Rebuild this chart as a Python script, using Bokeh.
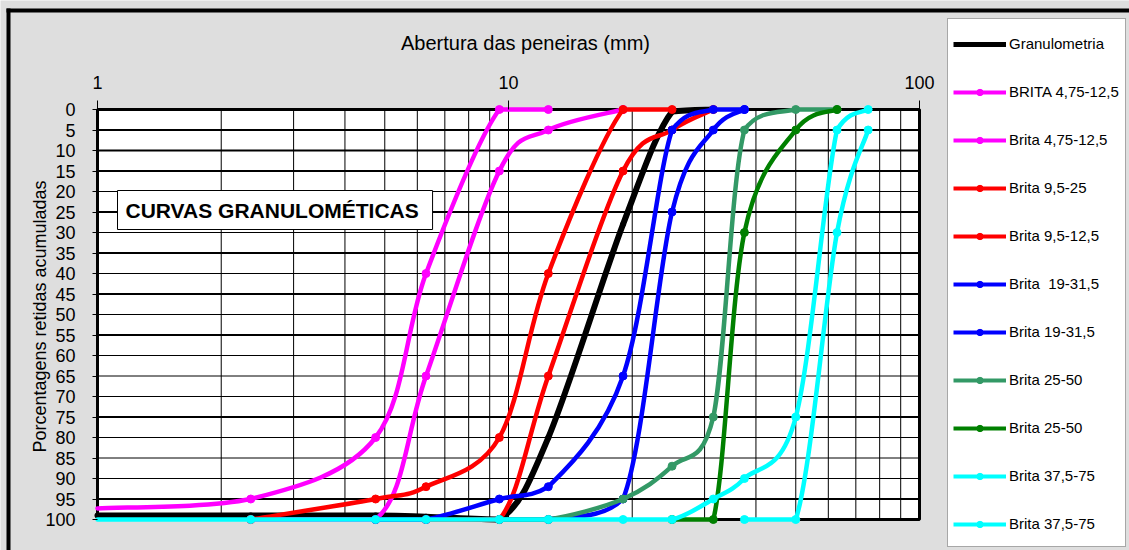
import math
from bokeh.plotting import figure
from bokeh.models import (FixedTicker, Range1d, ColumnDataSource, Legend, LegendItem,
                          Label, BasicTickFormatter, BoxAnnotation)
from bokeh.embed import file_html
from bokeh.resources import INLINE

# ---------------- data ----------------
x_tick_values = [1, 10, 100]
x_grid_values = [1, 2, 3, 4, 5, 6, 7, 8, 9, 10, 20, 30, 40, 50, 60, 70, 80, 90, 100]
y_tick_values = list(range(0, 101, 5))
y_grid_thick = [5, 10, 15, 25, 35, 45, 55, 75, 95]
y_grid_thin = [20, 30, 40, 50, 60, 65, 70, 80, 85, 90]

# curves that continue past the left edge of the axis start at x = 1 (value read at the edge)
granulometria_x = [1, 2.36, 4.75, 6.3, 9.5, 12.5, 19, 25, 31.5]
granulometria_y = [99, 99, 99, 99.3, 100, 80, 28, 0.5, 0]

brita1_x = [1, 2.36, 4.75, 6.3, 9.5, 12.5]
brita1_y = [97.3, 95, 80, 40, 0, 0]

brita2_x = [2.36, 4.75, 6.3, 9.5, 12.5, 19]
brita2_y = [100, 100, 65, 15, 5, 0]

brita3_x = [2.36, 4.75, 6.3, 9.5, 12.5, 19, 25]
brita3_y = [100, 95, 92, 80, 40, 0, 0]

brita4_x = [4.75, 6.3, 9.5, 12.5, 19, 25, 31.5]
brita4_y = [100, 100, 100, 65, 15, 5, 0]

brita5_x = [4.75, 6.3, 9.5, 12.5, 19, 25, 31.5, 37.5]
brita5_y = [100, 100, 95, 92, 65, 5, 0, 0]

brita6_x = [9.5, 12.5, 19, 25, 31.5, 37.5]
brita6_y = [100, 100, 95, 25, 5, 0]

brita7_x = [9.5, 12.5, 19, 25, 31.5, 37.5, 50, 63]
brita7_y = [100, 100, 95, 87, 75, 5, 0, 0]

brita8_x = [25, 31.5, 37.5, 50, 63]
brita8_y = [100, 100, 30, 5, 0]

brita9_x = [1, 2.36, 4.75, 6.3, 9.5, 12.5, 19, 25, 31.5, 37.5, 50, 63, 75]
brita9_y = [100, 100, 100, 100, 100, 100, 100, 100, 95, 90, 75, 5, 0]

brita10_x = [37.5, 50, 63, 75]
brita10_y = [100, 100, 30, 5]

series = [
    ("Granulometria", granulometria_x, granulometria_y, "#000000", False),
    ("BRITA 4,75-12,5", brita1_x, brita1_y, "#FF00FF", True),
    ("Brita 4,75-12,5", brita2_x, brita2_y, "#FF00FF", True),
    ("Brita 9,5-25", brita3_x, brita3_y, "#FF0000", True),
    ("Brita 9,5-12,5", brita4_x, brita4_y, "#FF0000", True),
    ("Brita  19-31,5", brita5_x, brita5_y, "#0000FF", True),
    ("Brita 19-31,5", brita6_x, brita6_y, "#0000FF", True),
    ("Brita 25-50", brita7_x, brita7_y, "#339966", True),
    ("Brita 25-50", brita8_x, brita8_y, "#008000", True),
    ("Brita 37,5-75", brita9_x, brita9_y, "#00FFFF", True),
    ("Brita 37,5-75", brita10_x, brita10_y, "#00FFFF", True),
]

title_text = "CURVAS  GRANULOMÉTICAS"
x_label = "Abertura das peneiras (mm)"
y_label = "Porcentagens retidas acumuladas"

FONT = "Liberation Sans"
BG = "#dedede"

# ---------------- layout (picture pixels) ----------------
PW, PH = 1129, 550
PA_L, PA_R, PA_T, PA_B = 97, 919, 109, 519      # white plot area
DEC = (PA_R - PA_L) / 2.0                        # pixels per decade
YPP = (PA_B - PA_T) / 100.0                      # pixels per percent


def px_to_x(px):
    return 10 ** ((px - PA_L) / DEC)


def py_to_y(py):
    return (py - PA_T) / YPP


p = figure(width=PW, height=PH, x_axis_type="log", x_axis_location="above",
           x_range=Range1d(px_to_x(0), px_to_x(PW)),
           y_range=Range1d(py_to_y(PH), py_to_y(0)),
           output_backend="svg", toolbar_location=None,
           min_border=0, min_border_left=0, min_border_right=0,
           min_border_top=0, min_border_bottom=0)

p.background_fill_color = BG
p.border_fill_color = BG
p.outline_line_color = None
p.grid.visible = False

x_lo, x_hi = x_tick_values[0], x_tick_values[-1]
y_lo, y_hi = y_tick_values[0], y_tick_values[-1]

# x axis (top of plot area)
xa = p.xaxis[0]
xa.fixed_location = y_lo
xa.ticker = FixedTicker(ticks=x_tick_values, minor_ticks=[])
xa.formatter = BasicTickFormatter()
xa.major_label_overrides = {v: str(v) for v in x_tick_values}
xa.axis_line_color = None
xa.major_tick_out = 9
xa.major_tick_in = 0
xa.major_tick_line_color = "black"
xa.minor_tick_line_color = None
xa.major_label_standoff = 12
xa.major_label_text_font = FONT
xa.major_label_text_font_size = "18px"
xa.major_label_text_color = "black"

# y axis (left of plot area)
ya = p.yaxis[0]
ya.fixed_location = x_lo
ya.ticker = FixedTicker(ticks=y_tick_values, minor_ticks=[])
ya.axis_line_color = None
ya.major_tick_out = 5
ya.major_tick_in = 0
ya.major_tick_line_color = "black"
ya.minor_tick_line_color = None
ya.major_label_standoff = 17
ya.major_label_text_font = FONT
ya.major_label_text_font_size = "18px"
ya.major_label_text_color = "black"

# white plot area, grid and border
p.quad(left=[x_lo], right=[x_hi], top=[y_lo], bottom=[y_hi], fill_color="white",
       line_color=None)
p.segment(x0=x_grid_values, x1=x_grid_values, y0=[y_lo] * len(x_grid_values),
          y1=[y_hi] * len(x_grid_values), line_color="black", line_width=1)
p.segment(x0=[x_lo] * len(y_grid_thin), x1=[x_hi] * len(y_grid_thin), y0=y_grid_thin,
          y1=y_grid_thin, line_color="black", line_width=1)
p.segment(x0=[x_lo] * len(y_grid_thick), x1=[x_hi] * len(y_grid_thick), y0=y_grid_thick,
          y1=y_grid_thick, line_color="black", line_width=2)
p.quad(left=[x_lo], right=[x_hi], top=[y_lo], bottom=[y_hi], fill_color=None,
       line_color="black", line_width=3)


def smooth(xs, ys):
    """Excel-like smoothed line: cubic Bezier segments (Catmull-Rom tangents),
    control values kept inside each segment's range."""
    u = [math.log10(v) for v in xs]
    n = len(xs)
    d = dict(x0=[], y0=[], x1=[], y1=[], cx0=[], cy0=[], cx1=[], cy1=[])
    for i in range(n - 1):
        i0 = max(i - 1, 0)
        i3 = min(i + 2, n - 1)
        lo, hi = min(ys[i], ys[i + 1]), max(ys[i], ys[i + 1])
        cu0 = u[i] + (u[i + 1] - u[i0]) / 6.0
        cv0 = min(max(ys[i] + (ys[i + 1] - ys[i0]) / 6.0, lo), hi)
        cu1 = u[i + 1] - (u[i3] - u[i]) / 6.0
        cv1 = min(max(ys[i + 1] - (ys[i3] - ys[i]) / 6.0, lo), hi)
        d["x0"].append(xs[i]); d["y0"].append(ys[i])
        d["x1"].append(xs[i + 1]); d["y1"].append(ys[i + 1])
        d["cx0"].append(10 ** cu0); d["cy0"].append(cv0)
        d["cx1"].append(10 ** cu1); d["cy1"].append(cv1)
    return ColumnDataSource(d)


items = []
for name, xs, ys, color, markers in series:
    lw = 6 if not markers else 4.5
    p.bezier(x0="x0", y0="y0", x1="x1", y1="y1", cx0="cx0", cy0="cy0",
             cx1="cx1", cy1="cy1", source=smooth(xs, ys), line_color=color,
             line_width=lw, line_cap="round")
    # legend sample line (not drawn in the plot)
    leg_line = p.line(xs, ys, line_color=color, line_width=5 if not markers else 4,
                      visible=False)
    rs = [leg_line]
    if markers:
        pts = [(x, y) for x, y in zip(xs, ys) if x > x_lo]   # no marker at the axis edge
        rs.append(p.scatter([a for a, _ in pts], [b for _, b in pts], marker="circle",
                            size=8, fill_color=color, line_color=color))
    items.append(LegendItem(label=name, renderers=rs))

# plot title box
p.add_layout(Label(x=px_to_x(117), y=py_to_y(190), text=title_text, anchor="top_left",
                   text_font=FONT, text_font_size="21px", text_font_style="bold",
                   text_color="black", padding=8, background_fill_color="white",
                   border_line_color="black", border_line_width=1))

# axis titles
p.add_layout(Label(x=px_to_x(525), y=py_to_y(42), text=x_label, text_align="center",
                   text_baseline="middle", text_font=FONT, text_font_size="20px",
                   text_color="black"))
p.add_layout(Label(x=px_to_x(39), y=py_to_y(316), text=y_label, angle=math.pi / 2,
                   text_align="center", text_baseline="middle", text_font=FONT,
                   text_font_size="18px", text_color="black"))

# outer black frame (top and left edges)
p.add_layout(BoxAnnotation(left=px_to_x(6), right=px_to_x(PW + 5), top=py_to_y(8),
                           bottom=py_to_y(12), fill_color="black", fill_alpha=1,
                           line_color=None))
p.add_layout(BoxAnnotation(left=px_to_x(6), right=px_to_x(10), top=py_to_y(8),
                           bottom=py_to_y(PH + 5), fill_color="black", fill_alpha=1,
                           line_color=None))

# legend box + legend
p.add_layout(BoxAnnotation(left=px_to_x(947), right=px_to_x(1125), top=py_to_y(18),
                           bottom=py_to_y(546), fill_color="white", fill_alpha=1,
                           line_color="black", line_width=1))
legend = Legend(items=items, location=(953, 18), orientation="vertical", margin=0,
                padding=0, spacing=31, glyph_width=53, glyph_height=16,
                label_height=17, label_standoff=3, label_text_font=FONT,
                label_text_font_size="15px", label_text_color="black",
                border_line_color=None, background_fill_alpha=0)
p.add_layout(legend, "center")

open("out.html", "w").write(file_html(p, INLINE))
